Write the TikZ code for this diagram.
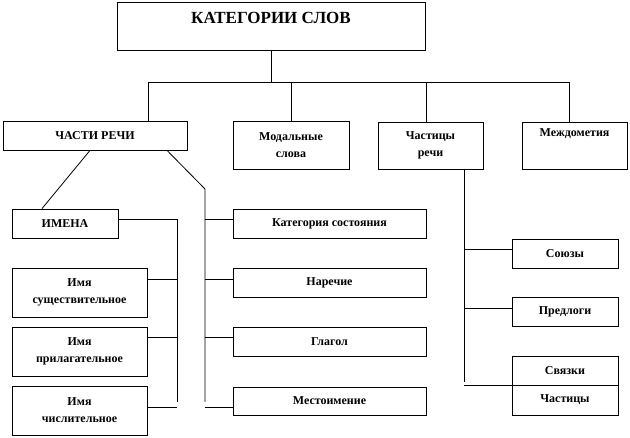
\documentclass[tikz,border=0pt]{standalone}
\usepackage{fontspec}
\setmainfont{Liberation Serif}
\begin{document}
\begin{tikzpicture}[x=1pt, y=-1pt, line width=0.8pt,
    box/.style={draw, rectangle, align=center, inner sep=0pt,
      font=\bfseries\fontsize{12}{17}\selectfont}]
    \useasboundingbox (0,0) rectangle (630,438);

    % Верхний уровень
    \node[box, minimum width=308pt, minimum height=48pt, text depth=16pt,
      font=\bfseries\fontsize{17}{20}\selectfont] (top) at (271,26) {КАТЕГОРИИ СЛОВ};
    \node[box, minimum width=184pt, minimum height=29pt] (chasti) at (95,135.5) {ЧАСТИ РЕЧИ};
    \node[box, minimum width=116pt, minimum height=48pt] (modal) at (291,145) {Модальные\\слова};
    \node[box, minimum width=105pt, minimum height=47pt] (chastr) at (430.5,145.5) {Частицы\\речи};
    \node[box, minimum width=105pt, minimum height=47pt, text depth=25pt] (mezhd) at (574.5,145.5) {Междометия};

    % Левый столбец
    \node[box, minimum width=106pt, minimum height=29pt] (imena) at (65,223.5) {ИМЕНА};
    \node[box, minimum width=135pt, minimum height=49pt] (sush) at (79.5,292.5) {Имя\\существительное};
    \node[box, minimum width=135pt, minimum height=49pt] (pril) at (79.5,351.5) {Имя\\прилагательное};
    \node[box, minimum width=135pt, minimum height=49pt] (chisl) at (79.5,410.5) {Имя\\числительное};

    % Средний столбец
    \node[box, minimum width=193pt, minimum height=29pt] (kat) at (329.5,223.5) {Категория состояния};
    \node[box, minimum width=193pt, minimum height=29pt] (narech) at (329.5,282.5) {Наречие};
    \node[box, minimum width=193pt, minimum height=29pt] (glagol) at (329.5,341.5) {Глагол};
    \node[box, minimum width=193pt, minimum height=28pt] (mest) at (329.5,401) {Местоимение};

    % Правый столбец
    \node[box, minimum width=106pt, minimum height=29pt] (soyuz) at (565,253.5) {Союзы};
    \node[box, minimum width=106pt, minimum height=29pt] (predl) at (565,311.5) {Предлоги};
    \node[box, minimum width=106pt, minimum height=29pt] (svyaz) at (565,370.5) {Связки};
    \node[box, minimum width=106pt, minimum height=30pt] (chast) at (565,400) {Частицы};

    % Шина под заголовком
    \coordinate (b1) at (148,82);
    \coordinate (b4) at (569,82);
    \draw (top.south) -- (top.south |- b1);
    \draw (b1) -- (b4);
    \draw (b1) -- (chasti.north -| b1);
    \draw (modal.north) -- (modal.north |- b1);
    \draw ([xshift=-4.5pt]chastr.north) -- ([xshift=-4.5pt]chastr.north |- b1);
    \draw (b4) -- (mezhd.north -| b4);

    % Ветви от частей речи
    \coordinate (lvtop) at (177,219);
    \coordinate (lvbot) at (177,402);
    \coordinate (rvtop) at (205,189);
    \coordinate (rvbot) at (205,402);
    \draw ([xshift=-5pt]chasti.south) -- ([xshift=-23pt]imena.north);
    \draw ([xshift=72pt]chasti.south) -- (rvtop) -- (rvbot);
    \draw (lvtop) -- (lvbot);

    % Отводы слева
    \draw ([yshift=4.5pt]imena.east) -- (lvtop);
    \draw ([yshift=13.5pt]sush.east) -- ([yshift=13.5pt]sush.east -| lvtop);
    \draw ([yshift=14.5pt]pril.east) -- ([yshift=14.5pt]pril.east -| lvtop);
    \draw ([yshift=3.5pt]chisl.east) -- ([yshift=3.5pt]chisl.east -| lvtop);

    % Отводы в середине
    \draw ([yshift=4.5pt]kat.west) -- ([yshift=4.5pt]kat.west -| rvtop);
    \draw ([yshift=3.5pt]narech.west) -- ([yshift=3.5pt]narech.west -| rvtop);
    \draw ([yshift=4.5pt]glagol.west) -- ([yshift=4.5pt]glagol.west -| rvtop);
    \draw ([yshift=-6pt]mest.west) -- ([yshift=-6pt]mest.west -| rvtop);

    % Частицы речи
    \coordinate (cvtop) at (464,169);
    \coordinate (cvbot) at (464,382);
    \draw (cvtop) -- (cvbot);
    \draw ([yshift=4.5pt]soyuz.west) -- ([yshift=4.5pt]soyuz.west -| cvtop);
    \draw ([yshift=3.5pt]predl.west) -- ([yshift=3.5pt]predl.west -| cvtop);
    \draw ([yshift=-1pt]chast.north west) -- ([yshift=-1pt]chast.north west -| cvtop);
\end{tikzpicture}
\end{document}
